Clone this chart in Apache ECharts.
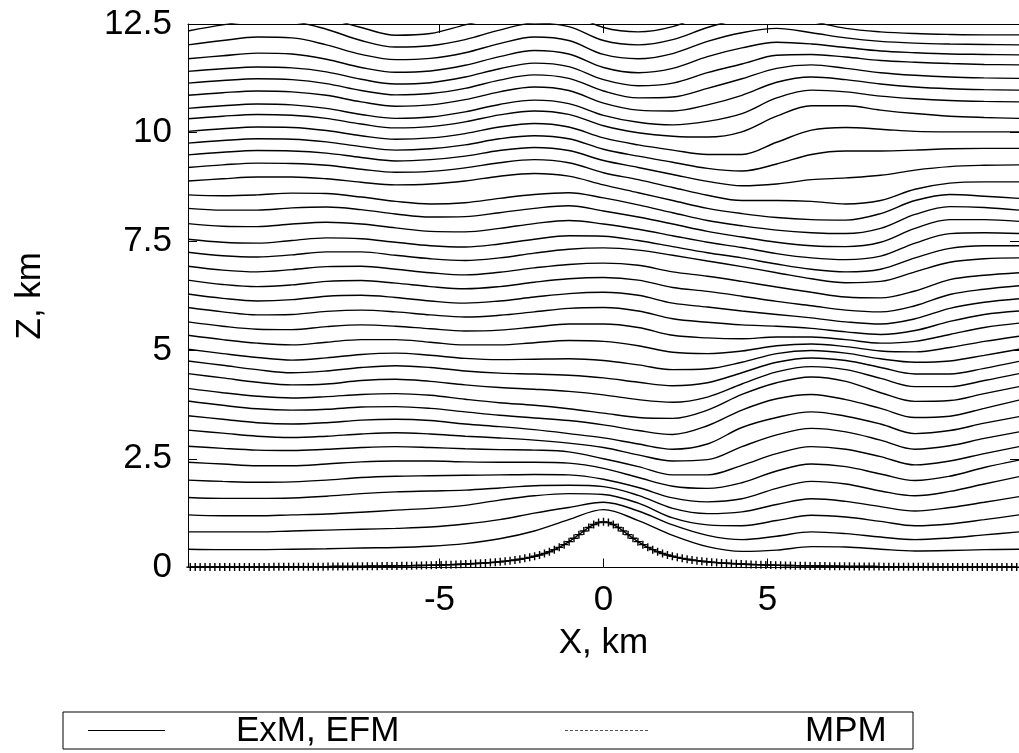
<!DOCTYPE html>
<html><head><meta charset="utf-8">
<script src="https://cdn.jsdelivr.net/npm/echarts@6/dist/echarts.min.js"></script>
<style>html,body{margin:0;padding:0;background:#fff}#c{width:1019px;height:753px}</style>
</head><body><div id="c"></div>
<script>
// x positions (km) where streamline heights were read
const xGrid = [-12.67,-11.61,-10.56,-9.50,-8.45,-7.39,-6.34,-5.28,-4.22,-3.17,-2.11,-1.06,0,1.06,2.11,3.17,4.22,5.28,6.34,7.39,8.45,9.50,10.56,11.61,12.67];
// streamline heights (km), lowest first
const L1  = [0.42,0.41,0.41,0.42,0.43,0.45,0.46,0.49,0.55,0.66,0.84,1.10,1.33,1.08,0.74,0.48,0.37,0.40,0.48,0.47,0.42,0.38,0.39,0.41,0.42];
const L2  = [0.82,0.82,0.82,0.84,0.86,0.88,0.90,0.93,1.00,1.10,1.25,1.38,1.50,1.30,0.98,0.74,0.64,0.72,0.82,0.78,0.70,0.64,0.68,0.75,0.82];
const L3  = [1.21,1.19,1.19,1.21,1.23,1.27,1.32,1.36,1.43,1.55,1.65,1.70,1.68,1.48,1.14,0.98,0.96,1.08,1.20,1.16,1.06,0.96,1.00,1.10,1.21];
const L4  = [1.61,1.59,1.59,1.60,1.64,1.70,1.74,1.76,1.78,1.83,1.88,1.89,1.86,1.66,1.36,1.24,1.28,1.45,1.58,1.52,1.40,1.30,1.38,1.50,1.63];
const L5  = [2.01,1.98,1.96,1.97,2.01,2.07,2.10,2.11,2.12,2.13,2.14,2.13,2.03,1.84,1.60,1.51,1.58,1.82,1.98,1.92,1.76,1.65,1.75,1.92,2.09];
const L6  = [2.42,2.38,2.34,2.34,2.38,2.43,2.45,2.45,2.43,2.42,2.42,2.40,2.28,2.07,1.87,1.82,1.95,2.22,2.38,2.32,2.15,2.00,2.10,2.30,2.47];
const L7  = [2.79,2.74,2.70,2.69,2.72,2.76,2.78,2.76,2.73,2.71,2.70,2.66,2.50,2.32,2.13,2.13,2.35,2.62,2.78,2.72,2.55,2.36,2.45,2.62,2.78];
const L8  = [3.16,3.09,3.02,2.99,3.02,3.07,3.10,3.07,3.02,2.98,2.93,2.86,2.76,2.59,2.45,2.48,2.78,3.05,3.20,3.12,2.93,2.72,2.80,2.97,3.12];
const L9  = [3.49,3.41,3.33,3.30,3.33,3.39,3.41,3.38,3.30,3.24,3.17,3.08,2.98,2.84,2.72,2.84,3.22,3.45,3.58,3.48,3.30,3.08,3.15,3.32,3.47];
const L10 = [3.83,3.73,3.65,3.62,3.64,3.69,3.70,3.66,3.58,3.50,3.44,3.38,3.28,3.15,3.06,3.26,3.62,3.88,3.98,3.86,3.66,3.45,3.48,3.66,3.85];
const L11 = [4.12,4.02,3.94,3.90,3.93,3.98,4.00,3.96,3.87,3.79,3.73,3.65,3.55,3.45,3.43,3.62,3.98,4.25,4.38,4.28,4.02,3.82,3.84,4.00,4.16];
const L12 = [4.46,4.36,4.26,4.20,4.22,4.30,4.33,4.28,4.20,4.14,4.10,4.05,3.97,3.86,3.80,3.92,4.22,4.50,4.62,4.55,4.35,4.16,4.16,4.30,4.46];
const L13 = [4.75,4.65,4.55,4.48,4.52,4.60,4.64,4.60,4.52,4.47,4.45,4.42,4.36,4.26,4.18,4.25,4.48,4.72,4.82,4.76,4.60,4.45,4.45,4.58,4.74];
const L14 = [5.02,4.92,4.83,4.77,4.82,4.90,4.93,4.88,4.81,4.78,4.79,4.80,4.76,4.66,4.55,4.57,4.72,4.92,4.99,4.93,4.80,4.72,4.75,4.88,5.02];
const L15 = [5.34,5.24,5.16,5.12,5.18,5.24,5.24,5.18,5.12,5.12,5.17,5.22,5.20,5.10,4.95,4.92,4.98,5.10,5.14,5.08,4.98,4.96,5.06,5.20,5.32];
const L16 = [5.65,5.55,5.48,5.47,5.54,5.58,5.55,5.49,5.44,5.46,5.53,5.60,5.60,5.52,5.34,5.28,5.26,5.30,5.30,5.24,5.16,5.20,5.36,5.52,5.62];
const L17 = [5.98,5.88,5.81,5.82,5.89,5.92,5.88,5.81,5.76,5.80,5.88,5.96,5.98,5.90,5.72,5.64,5.58,5.55,5.50,5.42,5.36,5.45,5.66,5.82,5.90];
const L18 = [6.29,6.19,6.13,6.16,6.24,6.26,6.21,6.13,6.08,6.13,6.22,6.30,6.33,6.26,6.08,5.99,5.90,5.82,5.74,5.65,5.60,5.72,5.96,6.10,6.18];
const L19 = [6.61,6.51,6.46,6.50,6.58,6.60,6.54,6.46,6.41,6.46,6.56,6.64,6.67,6.61,6.44,6.35,6.24,6.12,6.02,5.92,5.88,6.02,6.28,6.40,6.48];
const L20 = [6.93,6.84,6.80,6.85,6.92,6.93,6.86,6.78,6.73,6.79,6.89,6.97,7.00,6.95,6.80,6.70,6.58,6.45,6.33,6.22,6.20,6.36,6.62,6.72,6.78];
const L21 = [7.25,7.17,7.14,7.19,7.26,7.26,7.18,7.10,7.06,7.12,7.23,7.32,7.35,7.30,7.18,7.05,6.92,6.78,6.64,6.55,6.58,6.80,7.02,7.10,7.12];
const L22 = [7.55,7.48,7.46,7.52,7.58,7.56,7.48,7.40,7.37,7.44,7.55,7.63,7.62,7.52,7.38,7.24,7.12,6.98,6.86,6.80,6.86,7.12,7.34,7.40,7.40];
const L23 = [7.91,7.85,7.84,7.90,7.94,7.90,7.81,7.73,7.72,7.80,7.91,7.98,7.90,7.78,7.63,7.48,7.36,7.22,7.12,7.08,7.16,7.46,7.68,7.70,7.68];
const L24 = [8.26,8.22,8.22,8.27,8.29,8.23,8.13,8.06,8.07,8.16,8.26,8.32,8.20,8.06,7.90,7.73,7.60,7.48,7.40,7.38,7.48,7.80,8.00,8.00,7.96];
const L25 = [8.57,8.55,8.57,8.61,8.60,8.52,8.42,8.36,8.39,8.49,8.58,8.62,8.50,8.34,8.16,7.98,7.86,7.76,7.70,7.68,7.80,8.12,8.30,8.28,8.22];
const L26 = [8.89,8.94,8.98,8.98,8.94,8.86,8.80,8.82,8.89,9.00,9.06,9.00,8.80,8.62,8.44,8.26,8.14,8.05,8.00,7.99,8.14,8.44,8.58,8.54,8.49];
const L27 = [9.20,9.26,9.30,9.29,9.25,9.16,9.09,9.11,9.19,9.31,9.38,9.31,9.08,8.92,8.74,8.56,8.44,8.44,8.42,8.36,8.44,8.70,8.84,8.87,8.87];
const L28 = [9.49,9.55,9.59,9.58,9.53,9.43,9.35,9.38,9.46,9.59,9.66,9.59,9.36,9.20,9.04,8.88,8.78,8.82,8.92,8.96,9.02,9.14,9.22,9.25,9.26];
const L29 = [9.76,9.82,9.86,9.85,9.79,9.68,9.60,9.63,9.72,9.86,9.93,9.86,9.62,9.46,9.32,9.18,9.12,9.28,9.50,9.58,9.58,9.60,9.63,9.64,9.64];
const L30 = [10.03,10.09,10.13,10.12,10.05,9.93,9.85,9.88,9.98,10.13,10.21,10.13,9.88,9.72,9.60,9.50,9.50,9.78,10.06,10.12,10.08,10.03,10.02,10.02,10.02];
const L31 = [10.32,10.38,10.42,10.40,10.33,10.20,10.11,10.14,10.25,10.41,10.50,10.42,10.16,10.00,9.92,9.90,10.02,10.38,10.62,10.62,10.52,10.44,10.38,10.35,10.33];
const L32 = [10.56,10.62,10.66,10.64,10.56,10.42,10.33,10.36,10.48,10.65,10.75,10.67,10.40,10.24,10.18,10.26,10.44,10.80,10.98,10.94,10.84,10.78,10.74,10.72,10.71];
const L33 = [10.86,10.92,10.96,10.94,10.86,10.71,10.61,10.64,10.76,10.94,11.05,10.97,10.68,10.52,10.50,10.64,10.86,11.16,11.28,11.22,11.12,11.05,11.01,10.99,10.98];
const L34 = [11.14,11.20,11.24,11.22,11.13,10.97,10.87,10.90,11.02,11.21,11.33,11.25,10.96,10.80,10.82,11.02,11.24,11.48,11.56,11.48,11.38,11.32,11.28,11.26,11.25];
const L35 = [11.41,11.47,11.51,11.49,11.40,11.23,11.12,11.15,11.28,11.47,11.60,11.52,11.22,11.08,11.14,11.38,11.58,11.78,11.80,11.74,11.66,11.62,11.59,11.57,11.56];
const L36 = [11.70,11.77,11.83,11.81,11.69,11.50,11.39,11.42,11.55,11.75,11.89,11.81,11.50,11.38,11.48,11.75,11.95,12.08,12.04,11.96,11.88,11.84,11.81,11.80,11.79];
const L37 = [12.02,12.12,12.20,12.18,12.02,11.80,11.68,11.71,11.84,12.05,12.20,12.12,11.80,11.70,11.82,12.10,12.30,12.40,12.30,12.18,12.10,12.06,12.04,12.03,12.02];
const L38 = [12.34,12.48,12.57,12.55,12.38,12.12,11.97,12.00,12.14,12.36,12.52,12.44,12.12,12.02,12.14,12.42,12.62,12.70,12.56,12.40,12.32,12.28,12.26,12.25,12.25];
const L39 = [12.64,12.78,12.87,12.85,12.64,12.42,12.24,12.28,12.48,12.66,12.82,12.74,12.42,12.32,12.44,12.74,12.94,13.00,12.90,12.80,12.70,12.64,12.60,12.57,12.55];
const streamlines = [L1,L2,L3,L4,L5,L6,L7,L8,L9,L10,L11,L12,L13,L14,L15,L16,L17,L18,L19,L20,
  L21,L22,L23,L24,L25,L26,L27,L28,L29,L30,L31,L32,L33,L34,L35,L36,L37,L38,L39];

// terrain (km) at model grid points every 0.15 km from -12.6 to 12.6
const terrainStart = -12.6, terrainStep = 0.15;
const terrainZ = [0.009,0.010,0.010,0.010,0.010,0.011,0.011,0.011,0.012,0.012,0.012,0.012,0.013,0.013,0.014,0.014,0.014,0.015,0.015,0.016,0.016,0.017,0.017,0.018,0.018,0.019,0.020,0.020,0.021,0.022,0.023,0.023,0.024,0.025,0.026,0.027,0.028,0.030,0.031,0.032,0.034,0.035,0.037,0.039,0.040,0.042,0.045,0.047,0.049,0.052,0.055,0.058,0.062,0.066,0.070,0.074,0.079,0.085,0.091,0.098,0.105,0.113,0.123,0.133,0.145,0.158,0.173,0.190,0.210,0.233,0.258,0.288,0.323,0.363,0.410,0.463,0.525,0.595,0.672,0.755,0.840,0.921,0.988,1.034,
1.050,1.034,0.988,0.921,0.840,0.755,0.672,0.595,0.525,0.463,0.410,0.363,0.323,0.288,0.258,0.233,0.210,0.190,0.173,0.158,0.145,0.133,0.123,0.113,0.105,0.098,0.091,0.085,0.079,0.074,0.070,0.066,0.062,0.058,0.055,0.052,0.049,0.047,0.045,0.042,0.040,0.039,0.037,0.035,0.034,0.032,0.031,0.030,0.028,0.027,0.026,0.025,0.024,0.023,0.023,0.022,0.021,0.020,0.020,0.019,0.018,0.018,0.017,0.017,0.016,0.016,0.015,0.015,0.014,0.014,0.014,0.013,0.013,0.012,0.012,0.012,0.012,0.011,0.011,0.011,0.010,0.010,0.010,0.010,0.009];

const xTicks = [-5, 0, 5];
const xRange = [-12.67, 12.67];
const yRange = [0, 12.5];

const FONT = '"Liberation Sans", Arial, Helvetica, sans-serif';
const FS = 35;
const chart = echarts.init(document.getElementById('c'), null, {renderer: 'canvas'});
const lineStyle = {color: '#000', width: 1.4};
const series = streamlines.map(zs => ({
  type: 'line', data: xGrid.map((x, j) => [x, zs[j]]), smooth: 0.35, showSymbol: false,
  lineStyle: lineStyle, silent: true, animation: false, clip: true
}));
series.push({
  type: 'line', data: terrainZ.map((z, i) => [terrainStart + terrainStep * i, z]),
  symbol: 'path://M0,4H8M4,0V8', symbolSize: 8, showSymbol: true, showAllSymbol: true,
  itemStyle: {color: 'none', borderColor: '#000', borderWidth: 1.4},
  lineStyle: lineStyle, silent: true, animation: false
});

const axisCommon = {
  type: 'value', splitLine: {show: false},
  axisLine: {show: true, onZero: false, lineStyle: {color: '#000', width: 1}},
};
chart.setOption({
  backgroundColor: '#fff',
  animation: false,
  grid: {left: 188, top: 24, width: 833.6, height: 543.5, containLabel: false},
  xAxis: [
    Object.assign({}, axisCommon, {
      min: xRange[0], max: xRange[1], position: 'bottom',
      axisTick: {show: true, inside: true, length: 9, customValues: xTicks, lineStyle: {color: '#000'}},
      axisLabel: {show: true, customValues: xTicks, color: '#000', fontSize: FS, fontFamily: FONT, margin: 15},
      name: 'X, km', nameLocation: 'middle', nameGap: 58,
      nameTextStyle: {color: '#000', fontSize: FS, fontFamily: FONT}
    }),
    Object.assign({}, axisCommon, {
      min: xRange[0], max: xRange[1], position: 'top',
      axisTick: {show: true, inside: true, length: 9, customValues: xTicks, lineStyle: {color: '#000'}},
      axisLabel: {show: false}
    })
  ],
  yAxis: [
    Object.assign({}, axisCommon, {
      min: yRange[0], max: yRange[1], interval: 2.5, position: 'left',
      axisTick: {show: true, inside: true, length: 9, lineStyle: {color: '#000'}},
      axisLabel: {show: true, color: '#000', fontSize: FS, fontFamily: FONT, margin: 16},
      name: 'Z, km', nameLocation: 'middle', nameGap: 140, nameRotate: 90,
      nameTextStyle: {color: '#000', fontSize: FS, fontFamily: FONT}
    }),
    Object.assign({}, axisCommon, {
      min: yRange[0], max: yRange[1], interval: 2.5, position: 'right',
      axisTick: {show: true, inside: true, length: 9, lineStyle: {color: '#000'}},
      axisLabel: {show: false}
    })
  ],
  graphic: [
    {type: 'rect', shape: {x: 63, y: 712, width: 850, height: 37}, style: {fill: '#fff', stroke: '#000', lineWidth: 1}},
    {type: 'line', shape: {x1: 88, y1: 730.5, x2: 165, y2: 730.5}, style: {stroke: '#000', lineWidth: 1}},
    {type: 'text', x: 236, y: 731, style: {text: 'ExM, EFM', font: FS + 'px ' + FONT, fill: '#000', textVerticalAlign: 'middle'}},
    {type: 'line', shape: {x1: 565, y1: 730.5, x2: 648, y2: 730.5}, style: {stroke: '#555', lineWidth: 1, lineDash: [3, 2]}},
    {type: 'text', x: 805, y: 731, style: {text: 'MPM', font: FS + 'px ' + FONT, fill: '#000', textVerticalAlign: 'middle'}}
  ],
  series: series
});
</script></body></html>
